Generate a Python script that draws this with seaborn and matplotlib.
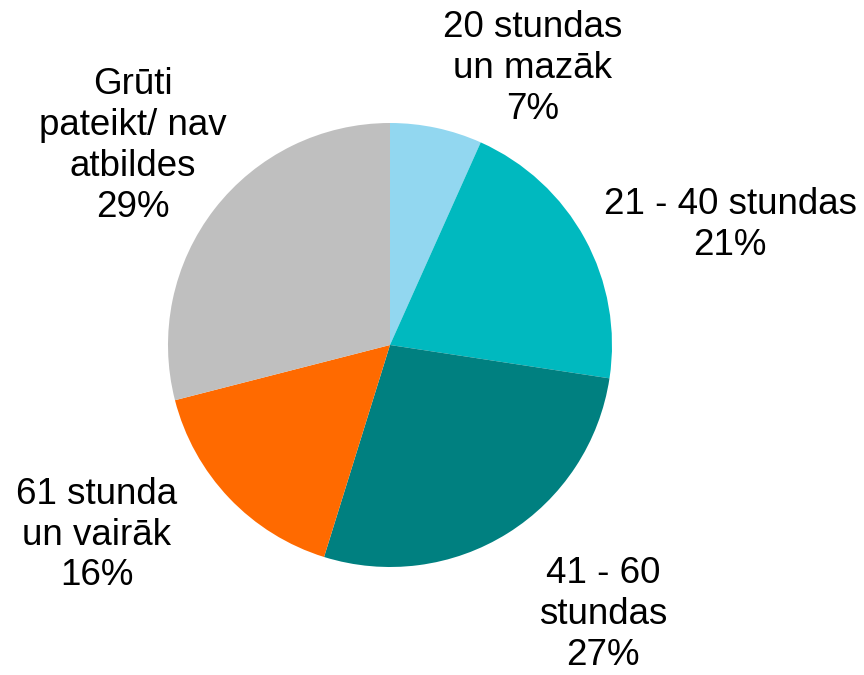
import matplotlib
matplotlib.use("Agg")
import matplotlib.pyplot as plt
import seaborn as sns
import numpy as np

categories = ["20 stundas\nun mazāk", "21 - 40 stundas", "41 - 60\nstundas",
              "61 stunda\nun vairāk", "Grūti\npateikt/ nav\natbildes"]
values = [6.7, 20.7, 27.4, 16.2, 29.0]
colors = ["#92D7F0", "#00B9BF", "#008080", "#FF6A00", "#BFBFBF"]

# label anchor positions (in pie-radius units)
label_pos = [(0.644, 1.245), (1.532, 0.54), (0.959, -1.215), (-1.32, -0.856), (-1.158, 0.895)]

sns.set_style("white")
plt.rcParams["font.family"] = ["Liberation Sans", "DejaVu Sans"]

fig = plt.figure(figsize=(8.64, 6.75), dpi=100)
cx, cy, r = 390, 345, 222
ax = fig.add_axes([(cx - r) / 864, (675 - cy - r) / 675, 2 * r / 864, 2 * r / 675])
ax.pie(values, colors=sns.color_palette(colors), startangle=90, counterclock=False,
       radius=1, wedgeprops=dict(linewidth=0))
ax.set_xlim(-1, 1)
ax.set_ylim(-1, 1)
ax.set_aspect("equal")
ax.axis("off")

for cat, v, (lx, ly) in zip(categories, values, label_pos):
    ax.text(lx, ly, f"{cat}\n{round(v):d}%", ha="center", va="center", fontsize=26.5,
            color="black", linespacing=1.22, clip_on=False)

fig.savefig("out.png", dpi=100)
